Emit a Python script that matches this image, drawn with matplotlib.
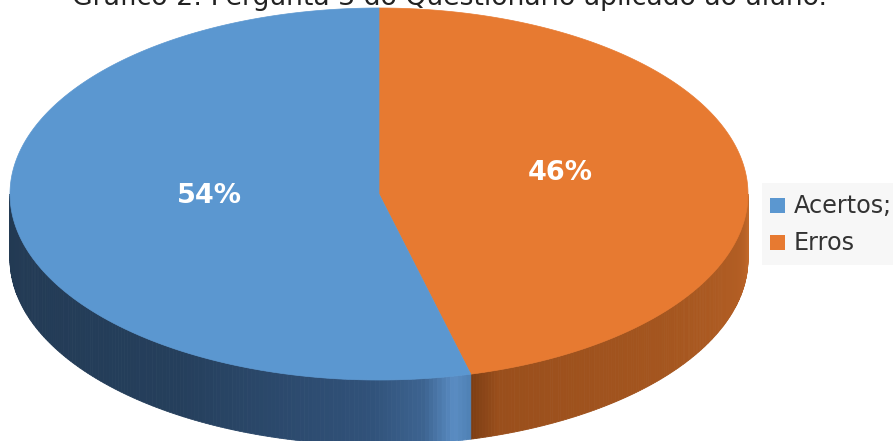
import numpy as np
import matplotlib
matplotlib.use("Agg")
import matplotlib.pyplot as plt
from matplotlib.patches import Polygon, Rectangle
from matplotlib.colors import to_rgb

# Data
categories = ["Acertos;", "Erros"]
values = [54, 46]
pct_labels = ["54%", "46%"]
title = "Gráfico 2: Pergunta 3 do Questionário aplicado ao aluno."

top_colors = ["#5B97D0", "#E77A31"]

fig = plt.figure(figsize=(8.93, 4.41), dpi=100)
ax = fig.add_axes([0, 0, 1, 1])
ax.set_xlim(0, 893)
ax.set_ylim(441, 0)
ax.axis("off")

# Ellipse geometry of the pie top and the slab thickness
cx, cy, a, b, depth = 379.0, 194.0, 369.0, 186.0, 65.0


def pt(t_deg, dy=0.0):
    t = np.radians(t_deg)
    return cx + a * np.cos(t), cy - b * np.sin(t) + dy


# Angles: start at 12 o'clock; Erros goes clockwise, Acertos counter-clockwise
total = float(sum(values))
span_err = 360.0 * values[1] / total
span_ace = 360.0 * values[0] / total
ranges = {
    1: (90.0 - span_err, 90.0),          # Erros
    0: (90.0, 90.0 + span_ace),          # Acertos
}


def lerp_stops(stops, u):
    us = [s[0] for s in stops]
    cols = np.array([to_rgb(s[1]) for s in stops])
    return tuple(np.interp(u, us, cols[:, k]) for k in range(3))


side_stops = {
    0: [(0.0, "#223952"), (0.55, "#253F5C"), (0.85, "#31527A"),
        (0.93, "#3D6491"), (0.975, "#5A8DC3"), (1.0, "#4F80B4")],
    1: [(0.0, "#7C3D14"), (0.06, "#9A4F1C"), (0.5, "#A5561F"),
        (0.85, "#B35E24"), (1.0, "#C2692A")],
}

# Visible front side walls (t in [180, 360] mod 360)
for idx, (t0, t1) in ranges.items():
    lo, hi = t0 % 360.0, t0 % 360.0 + (t1 - t0)
    segs = []
    for shift in (-360.0, 0.0, 360.0):
        s0 = max(lo + shift, 180.0)
        s1 = min(hi + shift, 360.0)
        if s1 > s0:
            segs.append((s0, s1))
    for s0, s1 in segs:
        n = 160
        ts = np.linspace(s0, s1, n + 1)
        for i in range(n):
            u = (0.5 * (ts[i] + ts[i + 1]) - s0) / (s1 - s0)
            col = lerp_stops(side_stops[idx], u)
            p1, p2 = pt(ts[i]), pt(ts[i + 1])
            p3, p4 = pt(ts[i + 1], depth), pt(ts[i], depth)
            ax.add_patch(Polygon([p1, p2, p3, p4], closed=True,
                                 facecolor=col, edgecolor=col, lw=0.6))

# Top faces
for idx, (t0, t1) in ranges.items():
    ts = np.linspace(t0, t1, 300)
    pts = [(cx, cy)] + [pt(t) for t in ts]
    ax.add_patch(Polygon(pts, closed=True, facecolor=top_colors[idx],
                         edgecolor=top_colors[idx], lw=0.5))

# Percentage labels near the middle of each slice
label_r = 0.48
for idx, (t0, t1) in ranges.items():
    tm = np.radians(0.5 * (t0 + t1))
    x = cx + label_r * a * np.cos(tm) + 6
    y = cy - label_r * b * np.sin(tm) - 9.5
    ax.text(x, y, pct_labels[idx], color="white", fontsize=19.5,
            fontweight="bold", ha="center", va="center",
            family="DejaVu Sans")

# Title (top edge trimmed by the canvas)
ax.text(450, 5, title, fontsize=19.2, ha="center", va="baseline",
        color="#222222", family="DejaVu Sans")

# Legend
ax.add_patch(Rectangle((762, 183), 140, 82, facecolor="#F7F7F7",
                       edgecolor="none"))
leg_y = [205.5, 242.5]
for idx, name in enumerate(categories):
    ax.add_patch(Rectangle((770, leg_y[idx] - 7.5), 15, 15,
                           facecolor=top_colors[idx], edgecolor="none"))
    ax.text(794, leg_y[idx] + 7.5, name, fontsize=17.2, ha="left",
            va="baseline", color="#333333", family="DejaVu Sans")

fig.savefig("out.png", dpi=100, facecolor="white")
